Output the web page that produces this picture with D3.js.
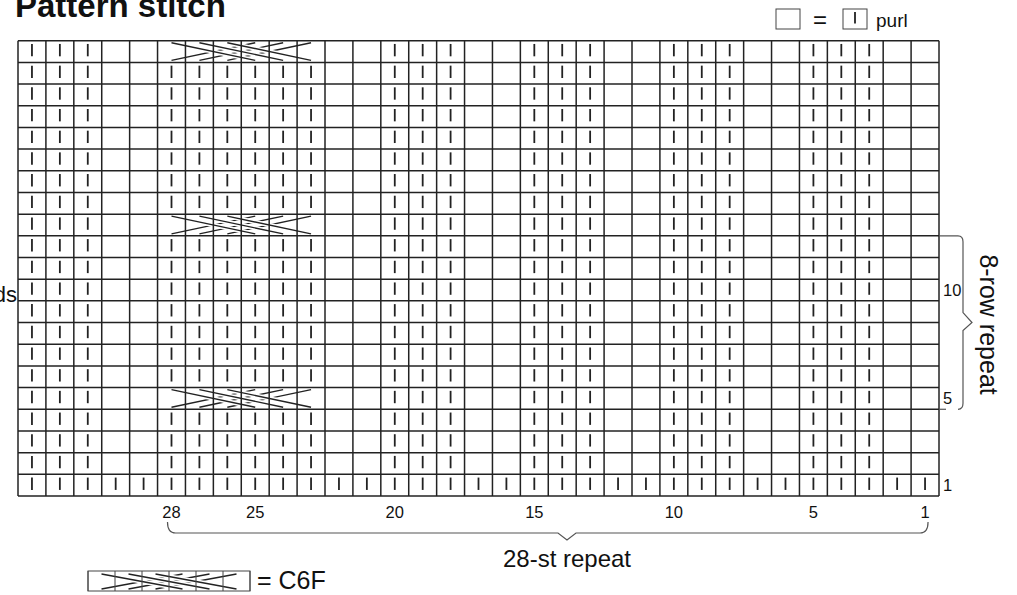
<!DOCTYPE html>
<html>
<head>
<meta charset="utf-8">
<script src="https://cdn.jsdelivr.net/npm/d3@7"></script>
<style>
  body { margin: 0; background: #fff; }
  text { font-family: "Liberation Sans", Arial, sans-serif; fill: #111; }
</style>
</head>
<body>
<svg id="chart" width="1017" height="595"></svg>
<script>
// stitches are numbered right to left, rows bottom to top
const stitches = [33, 32, 31, 30, 29, 28, 27, 26, 25, 24, 23, 22, 21, 20, 19, 18, 17,
                  16, 15, 14, 13, 12, 11, 10, 9, 8, 7, 6, 5, 4, 3, 2, 1];
const rows = [21, 20, 19, 18, 17, 16, 15, 14, 13, 12, 11, 10, 9, 8, 7, 6, 5, 4, 3, 2, 1];
const purlStitches = [33, 32, 31, 28, 27, 26, 25, 24, 23, 20, 19, 18, 15, 14, 13, 10, 9, 8, 5, 4, 3];
const allPurlRows = [1];
const cableRows = [5, 13, 21];
const cableStitches = [28, 27, 26, 25, 24, 23];
const stitchLabels = [28, 25, 20, 15, 10, 5, 1];
const rowLabels = [1, 5, 10];
const repeatRows = [5, 12];      // 8-row repeat
const repeatStitches = [28, 1];  // 28-st repeat

const svg = d3.select('#chart');
const ink = '#222';

const x = d3.scaleBand().domain(stitches).range([18, 939]);
const y = d3.scaleBand().domain(rows).range([40.7, 496]);
const cx = s => x(s) + x.bandwidth() / 2;

// title, cut at the top edge like the scan
svg.append('text')
    .attr('x', 15).attr('y', 17)
    .attr('font-size', 33).attr('font-weight', 'bold')
    .text('Pattern stitch');

// cable symbol: three strands crossing three strands
function drawCable(g, xs, top, bottom) {
    for (let i = 0; i < 3; i++) {
        g.append('line')
            .attr('x1', xs[i]).attr('y1', bottom)
            .attr('x2', xs[i + 3]).attr('y2', top)
            .attr('stroke', ink).attr('stroke-width', 1.4);
    }
    for (let i = 0; i < 3; i++) {
        g.append('line')
            .attr('x1', xs[i]).attr('y1', top)
            .attr('x2', xs[i + 3]).attr('y2', bottom)
            .attr('stroke', '#fff').attr('stroke-width', 4.5);
        g.append('line')
            .attr('x1', xs[i]).attr('y1', top)
            .attr('x2', xs[i + 3]).attr('y2', bottom)
            .attr('stroke', ink).attr('stroke-width', 1.4);
    }
}

function drawPurl(g, px, top, h) {
    g.append('line')
        .attr('x1', px).attr('x2', px)
        .attr('y1', top + h * 0.15).attr('y2', top + h * 0.72)
        .attr('stroke', ink).attr('stroke-width', 1.8);
}

const cells = svg.append('g');
rows.forEach(r => {
    stitches.forEach(s => {
        if (allPurlRows.includes(r)) {
            drawPurl(cells, cx(s), y(r), y.bandwidth());
        } else if (cableRows.includes(r) && cableStitches.includes(s)) {
            // drawn below as one symbol
        } else if (purlStitches.includes(s)) {
            drawPurl(cells, cx(s), y(r), y.bandwidth());
        }
    });
});

cableRows.forEach(r => {
    drawCable(cells, cableStitches.map(cx), y(r) + 2, y(r) + y.bandwidth() - 2);
});

// grid
const grid = svg.append('g').attr('stroke', ink).attr('stroke-width', 1.5);
const xEdges = stitches.map(s => x(s)).concat([x.range()[1]]);
const yEdges = rows.map(r => y(r)).concat([y.range()[1]]);
grid.selectAll('.v').data(xEdges).join('line')
    .attr('x1', d => d).attr('x2', d => d)
    .attr('y1', y.range()[0]).attr('y2', y.range()[1]);
grid.selectAll('.h').data(yEdges).join('line')
    .attr('y1', d => d).attr('y2', d => d)
    .attr('x1', x.range()[0]).attr('x2', x.range()[1]);

// stitch numbers
svg.append('g').selectAll('text').data(stitchLabels).join('text')
    .attr('x', d => cx(d)).attr('y', 518)
    .attr('text-anchor', 'middle').attr('font-size', 16.5)
    .text(d => d);

// row numbers
const right = x.range()[1];
svg.append('g').selectAll('text').data(rowLabels).join('text')
    .attr('x', right + 4).attr('y', d => y(d) + y.bandwidth() / 2 + 6)
    .attr('font-size', 16.5)
    .text(d => d);

// left note, mostly off the page
svg.append('text')
    .attr('x', 17).attr('y', 302)
    .attr('text-anchor', 'end').attr('font-size', 22)
    .text('ends');

// 8-row repeat bracket
const bTop = y(repeatRows[1]);
const bBot = y(repeatRows[0]) + y.bandwidth();
const bMid = (bTop + bBot) / 2;
const bx = right + 24;
const bracket = svg.append('g').attr('fill', 'none').attr('stroke', '#555').attr('stroke-width', 1.2);
bracket.append('path')
    .attr('d', `M${right},${bTop}H${bx - 5}Q${bx},${bTop} ${bx},${bTop + 6}V${bMid - 10}` +
        `L${bx + 9},${bMid}L${bx},${bMid + 8}V${bBot - 6}Q${bx},${bBot} ${bx - 5},${bBot}`);
bracket.append('path')
    .attr('d', `M${right},${bBot}H${right + 7}`);
svg.append('text')
    .attr('transform', `translate(${bx + 17},${bMid + 2}) rotate(90)`)
    .attr('text-anchor', 'middle').attr('font-size', 25)
    .text('8-row repeat');

// 28-st repeat bracket
const sLeft = cx(repeatStitches[0]) - 4;
const sRight = cx(repeatStitches[1]) + 3;
const sy = 533;
const tipX = 567;
bracket.append('path')
    .attr('d', `M${sLeft},${sy - 11}Q${sLeft},${sy} ${sLeft + 8},${sy}H${tipX - 9}L${tipX},${sy + 7}` +
        `L${tipX + 9},${sy}H${sRight - 8}Q${sRight},${sy} ${sRight},${sy - 11}`);
svg.append('text')
    .attr('x', tipX).attr('y', 567)
    .attr('text-anchor', 'middle').attr('font-size', 24)
    .text('28-st repeat');

// legend: blank square = purl
const legend = svg.append('g');
legend.append('rect').attr('x', 776).attr('y', 9).attr('width', 24).attr('height', 20)
    .attr('fill', 'none').attr('stroke', '#444').attr('stroke-width', 1);
legend.append('text').attr('x', 813).attr('y', 28).attr('font-size', 24).text('=');
legend.append('rect').attr('x', 843).attr('y', 9).attr('width', 24).attr('height', 20)
    .attr('fill', 'none').attr('stroke', '#444').attr('stroke-width', 1);
drawPurl(legend, 855, 9, 20);
legend.append('text').attr('x', 876).attr('y', 27).attr('font-size', 19).text('purl');

// legend: C6F
const lx = d3.scaleBand().domain(cableStitches).range([88, 250]);
const lg = svg.append('g');
drawCable(lg, cableStitches.map(s => lx(s) + lx.bandwidth() / 2), 574, 589);
lg.append('g').attr('stroke', '#444').attr('stroke-width', 1)
    .selectAll('line').data(cableStitches.map(s => lx(s)).concat([250])).join('line')
    .attr('x1', d => d).attr('x2', d => d).attr('y1', 571).attr('y2', 591);
lg.append('rect').attr('x', 88).attr('y', 571).attr('width', 162).attr('height', 20)
    .attr('fill', 'none').attr('stroke', '#444').attr('stroke-width', 1);
lg.append('text').attr('x', 257).attr('y', 589).attr('font-size', 25).text('= C6F');
</script>
</body>
</html>
